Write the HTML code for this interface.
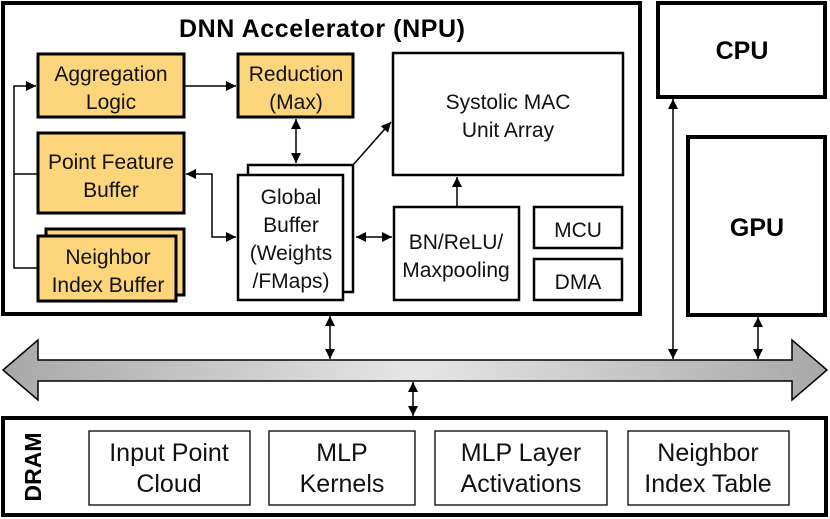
<!DOCTYPE html>
<html><head><style>body{margin:0;background:#fff}svg{display:block}text{font-family:"Liberation Sans",sans-serif;text-anchor:middle}</style></head><body>
<svg width="830" height="519" viewBox="0 0 830 519" xmlns="http://www.w3.org/2000/svg">
<defs>
<marker id="a" viewBox="0 0 10 10" refX="10" refY="5" markerWidth="10" markerHeight="10" markerUnits="userSpaceOnUse" orient="auto-start-reverse"><path d="M0,0L10,5L0,10z" fill="#000"/></marker>
<linearGradient id="g" x1="0" x2="1"><stop offset="0" stop-color="#a8a8a8"/><stop offset="0.5" stop-color="#e6e6e6"/><stop offset="1" stop-color="#a8a8a8"/></linearGradient>
</defs>
<g fill="none" stroke="#000">
<rect x="3" y="3" width="637" height="311" stroke-width="4" fill="#fff"/>
<rect x="658" y="3" width="167" height="94" stroke-width="4"/>
<rect x="688" y="137" width="137" height="178" stroke-width="4"/>
<rect x="3" y="418" width="823" height="97" stroke-width="4"/>
<g stroke-width="3" fill="#fdd67c">
<rect x="38" y="54" width="146" height="63"/>
<rect x="238" y="54" width="115" height="63"/>
<rect x="38" y="133" width="146" height="80"/>
<rect x="46" y="229" width="138" height="66"/>
<rect x="38" y="236" width="138" height="65"/>
</g>
<g stroke-width="2.5" fill="#fff">
<rect x="248" y="165" width="105" height="127"/>
<rect x="238" y="175" width="105" height="125"/>
<rect x="393" y="53" width="230" height="122"/>
<rect x="394" y="207" width="125" height="93"/>
<rect x="534" y="207" width="88" height="41"/>
<rect x="534" y="259" width="88" height="41"/>
</g>
<g stroke-width="1.3">
<rect x="89" y="431" width="161" height="74"/>
<rect x="269" y="431" width="146" height="74"/>
<rect x="435" y="431" width="172" height="74"/>
<rect x="628" y="431" width="161" height="74"/>
</g>
<g stroke-width="1.5">
<path d="M38,174H14V86H36" marker-end="url(#a)"/>
<path d="M38,268H14V174"/>
<path d="M184,86H236" marker-end="url(#a)"/>
<path d="M296,119V163" marker-start="url(#a)" marker-end="url(#a)"/>
<path d="M186,174H212V237H236" marker-start="url(#a)" marker-end="url(#a)"/>
<path d="M353,165L391,122" marker-end="url(#a)"/>
<path d="M356,237H392" marker-start="url(#a)" marker-end="url(#a)"/>
<path d="M457,207V177" marker-end="url(#a)"/>
<path d="M330,316V359" marker-start="url(#a)" marker-end="url(#a)"/>
<path d="M413,382V416" marker-start="url(#a)" marker-end="url(#a)"/>
<path d="M673,99V359" marker-start="url(#a)" marker-end="url(#a)"/>
<path d="M758,317V359" marker-start="url(#a)" marker-end="url(#a)"/>
</g>
<path d="M3,370L38,340V360H792V340L827,370L792,400V381H38V400Z" fill="url(#g)" stroke-width="1.5"/>
</g>
<text x="322" y="37" font-size="25" font-weight="bold" textLength="286">DNN Accelerator (NPU)</text>
<text x="742" y="59" font-size="25" font-weight="bold">CPU</text>
<text x="757" y="236" font-size="25" font-weight="bold">GPU</text>
<text x="0" y="0" font-size="23" font-weight="bold" transform="translate(41,467) rotate(-90)">DRAM</text>
<g font-size="21" fill="#111">
<text x="111" y="81">Aggregation</text><text x="111" y="109">Logic</text>
<text x="296" y="81">Reduction</text><text x="296" y="109">(Max)</text>
<text x="111" y="169">Point Feature</text><text x="111" y="197">Buffer</text>
<text x="108" y="264">Neighbor</text><text x="108" y="292">Index Buffer</text>
<text x="508" y="109">Systolic MAC</text><text x="508" y="137">Unit Array</text>
<text x="578" y="237">MCU</text><text x="578" y="289">DMA</text>
<text x="291" y="204">Global</text><text x="291" y="232">Buffer</text><text x="291" y="260">(Weights</text><text x="291" y="288">/FMaps)</text>
<text x="456" y="249">BN/ReLU/</text><text x="456" y="277">Maxpooling</text>
</g>
<g font-size="25" fill="#111">
<text x="169" y="461">Input Point</text><text x="169" y="492">Cloud</text>
<text x="342" y="461">MLP</text><text x="342" y="492">Kernels</text>
<text x="521" y="461">MLP Layer</text><text x="521" y="492">Activations</text>
<text x="708" y="461">Neighbor</text><text x="708" y="492">Index Table</text>
</g>
</svg>
</body></html>
